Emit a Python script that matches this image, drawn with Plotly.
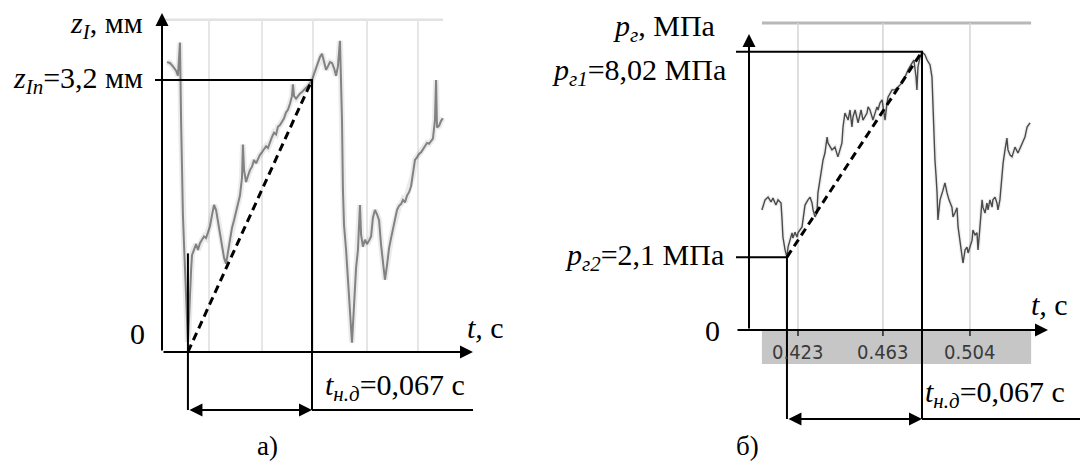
import plotly.graph_objects as go

# ---------------- panel а): displacement z_I (mm) vs time (ms) ----------------
t_a_ms = [2.7, 4.3, 5.9, 7.6, 8.6, 9.2, 9.7, 10.3, 10.8, 11.3,
          11.9, 12.4, 13.0, 13.5, 14.0, 14.6, 15.1, 15.7, 16.2, 17.3,
          18.4, 19.4, 20.5, 21.6, 22.7, 23.8, 24.8, 25.9, 27.0, 28.1,
          29.2, 30.2, 31.3, 32.4, 33.5, 34.6, 35.6, 36.7, 37.8, 38.9,
          40.0, 41.0, 42.1, 43.2, 43.7, 44.3, 45.4, 46.4, 47.5, 48.6,
          49.7, 50.8, 51.8, 52.9, 54.0, 55.1, 56.2, 57.2, 58.3, 59.4,
          60.5, 61.6, 62.6, 63.7, 64.8, 65.9, 67.0, 68.0, 69.1, 70.2,
          70.7, 71.3, 72.4, 73.4, 74.5, 75.6, 76.7, 77.8, 78.8, 79.9,
          81.0, 82.1, 83.2, 84.2, 85.3, 86.4, 87.5, 88.6, 89.6, 90.7,
          91.8, 92.9, 94.0, 95.0, 96.1, 96.7, 97.2, 97.7, 98.3, 99.4,
          100.4, 101.5, 102.6, 103.7, 104.8, 105.8, 106.9, 107.5, 108.5, 109.6,
          110.7, 111.8, 112.9, 113.9, 115.0, 116.1, 117.2, 118.3, 119.3, 120.4,
          121.5, 122.6, 123.7, 124.7, 125.8, 126.9, 128.0, 129.1, 130.1, 131.2,
          132.3, 133.4, 134.5, 135.5, 136.6, 137.7, 138.8, 139.9, 140.9, 142.0,
          143.1, 144.2, 145.3, 146.3, 147.4, 148.0, 148.5, 149.6, 150.7, 151.7]
z_a_mm = [3.41, 3.40, 3.36, 3.31, 3.25, 3.44, 3.64, 2.73, 1.91, 1.61,
          1.26, 0.96, 0.61, 0.32, 0.12, 0.40, 0.73, 0.96, 1.14, 1.22,
          1.27, 1.20, 1.28, 1.32, 1.36, 1.34, 1.42, 1.48, 1.61, 1.73,
          1.67, 1.55, 1.41, 1.25, 1.11, 1.04, 1.18, 1.32, 1.46, 1.55,
          1.65, 1.75, 1.84, 2.05, 2.44, 2.14, 2.00, 2.07, 2.14, 2.18,
          2.26, 2.22, 2.28, 2.32, 2.35, 2.38, 2.42, 2.40, 2.48, 2.53,
          2.58, 2.56, 2.65, 2.67, 2.71, 2.75, 2.82, 2.85, 2.92, 3.01,
          3.15, 3.01, 2.98, 3.01, 3.04, 3.06, 3.08, 3.11, 3.13, 3.16,
          3.20, 3.27, 3.34, 3.41, 3.47, 3.51, 3.41, 3.32, 3.36, 3.41,
          3.40, 3.34, 3.25, 3.36, 3.66, 3.20, 2.73, 1.91, 1.49, 1.20,
          0.85, 0.44, 0.11, 0.55, 0.99, 1.20, 1.73, 1.38, 1.24, 1.32,
          1.27, 1.31, 1.36, 1.58, 1.67, 1.62, 1.55, 1.26, 1.06, 0.85,
          1.02, 1.22, 1.34, 1.44, 1.53, 1.67, 1.72, 1.74, 1.79, 1.76,
          1.84, 1.88, 1.95, 2.08, 2.26, 2.29, 2.33, 2.35, 2.38, 2.42,
          2.46, 2.45, 2.48, 2.51, 2.73, 3.20, 2.64, 2.66, 2.72, 2.75]
grid_a_ms = [25.4, 54.0, 81.5, 110.7, 138.2]
trace_a_span_ms = [1.6, 151.7]
z_top_a = 3.91
z_In = 3.2
t_a_start = 14.0
t_a_end = 81.0
z_a_mark = 1.16

# ---------------- panel б): pressure p_г (MPa) vs time (s) ----------------
t_b_s = [0.4060, 0.4075, 0.4089, 0.4103, 0.4112, 0.4126, 0.4136, 0.4150, 0.4155, 0.4159,
         0.4169, 0.4178, 0.4183, 0.4192, 0.4202, 0.4206, 0.4216, 0.4225, 0.4230, 0.4249,
         0.4254, 0.4263, 0.4277, 0.4287, 0.4296, 0.4301, 0.4310, 0.4319, 0.4324, 0.4334,
         0.4343, 0.4348, 0.4357, 0.4367, 0.4371, 0.4390, 0.4404, 0.4418, 0.4437, 0.4442,
         0.4451, 0.4466, 0.4475, 0.4484, 0.4489, 0.4499, 0.4513, 0.4527, 0.4536, 0.4555,
         0.4560, 0.4569, 0.4579, 0.4583, 0.4593, 0.4602, 0.4607, 0.4616, 0.4626, 0.4630,
         0.4640, 0.4649, 0.4654, 0.4673, 0.4687, 0.4701, 0.4720, 0.4734, 0.4748, 0.4767,
         0.4776, 0.4786, 0.4790, 0.4795, 0.4805, 0.4814, 0.4828, 0.4838, 0.4852, 0.4861,
         0.4866, 0.4871, 0.4875, 0.4880, 0.4885, 0.4889, 0.4894, 0.4899, 0.4913, 0.4922,
         0.4932, 0.4941, 0.4955, 0.4960, 0.4969, 0.4979, 0.4984, 0.4993, 0.5002, 0.5007,
         0.5017, 0.5026, 0.5031, 0.5040, 0.5050, 0.5054, 0.5064, 0.5073, 0.5078, 0.5087,
         0.5097, 0.5101, 0.5111, 0.5120, 0.5125, 0.5134, 0.5144, 0.5148, 0.5158, 0.5167,
         0.5172, 0.5181, 0.5191, 0.5196, 0.5205, 0.5214, 0.5219, 0.5229, 0.5238, 0.5252,
         0.5266, 0.5276, 0.5285, 0.5299, 0.5309, 0.5323]
p_b_mpa = [3.46, 3.75, 3.83, 3.69, 3.80, 3.60, 3.75, 3.66, 3.17, 2.68,
           2.31, 2.10, 2.39, 2.59, 2.80, 2.65, 2.82, 2.68, 2.80, 2.97,
           3.26, 3.60, 3.75, 3.83, 3.66, 3.46, 3.26, 3.37, 3.95, 4.32,
           4.70, 4.90, 5.10, 5.56, 5.39, 5.19, 5.27, 4.99, 5.39, 5.85,
           6.25, 6.05, 6.34, 5.85, 6.14, 6.34, 5.97, 6.34, 6.05, 6.25,
           6.43, 6.34, 6.14, 6.05, 6.25, 6.43, 6.34, 6.54, 6.63, 6.43,
           6.05, 6.54, 6.71, 6.92, 6.92, 7.00, 7.12, 7.29, 7.49, 7.69,
           7.78, 7.29, 6.92, 7.58, 7.87, 8.02, 7.93, 7.78, 7.64, 7.29,
           6.34, 6.05, 4.90, 4.47, 3.95, 3.17, 3.54, 3.75, 4.03, 4.24,
           3.95, 3.75, 3.54, 3.26, 3.37, 3.52, 2.97, 2.59, 2.10, 1.93,
           2.31, 2.39, 2.22, 2.39, 2.59, 2.88, 2.74, 2.80, 2.31, 2.97,
           3.75, 3.54, 3.37, 3.66, 3.46, 3.75, 3.54, 3.75, 3.83, 3.66,
           3.46, 3.75, 4.61, 4.81, 5.19, 5.53, 5.19, 5.04, 4.99, 5.27,
           5.10, 5.24, 5.39, 5.56, 5.85, 5.97]
tick_b_s = [0.423, 0.463, 0.504]
tick_b_labels = ["0.423", "0.463", "0.504"]
trace_b_span_s = [0.4060, 0.5328]
p_top_b = 8.85
p_band_b = -0.98
p_g1 = 8.02
p_g2 = 2.1
t_b_start = 0.4178
t_b_end = 0.4814

# ---------------- axis mapping (layout only) ----------------
# panel а): 0.54 ms per px, t=0 at x=162 px ; 85 px per mm, z=0 at y=352 px
XA = [(0 - 162) * 0.54, (540 - 162) * 0.54]
YA = [(352 - 464) / 85, 352 / 85]
# panel б): 0.000471 s per px, 0.423 s at x=798 px ; 34.7 px per MPa, p=0 at y=330 px
XB = [0.423 + (540 - 798) * 0.000471, 0.423 + (1080 - 798) * 0.000471]
YB = [(330 - 464) / 34.7, 330 / 34.7]
ms_px = 0.54
s_px = 0.000471
mm_px = 1 / 85
mpa_px = 1 / 34.7

SERIF = "Liberation Serif, Times New Roman, serif"
FS = 30

fig = go.Figure()

def seg_trace(xs, ys, xa, ya, color="black", width=2, dash=None):
    fig.add_trace(go.Scatter(x=xs, y=ys, xaxis=xa, yaxis=ya, mode="lines",
                             line=dict(color=color, width=width, dash=dash),
                             hoverinfo="skip", showlegend=False))

# ----- panel а) oscillogram background -----
seg_trace(trace_a_span_ms, [z_top_a, z_top_a], "x", "y", color="#e2e2e2", width=2.5)
gx, gy = [], []
for g in grid_a_ms:
    gx += [g, g, None]
    gy += [0, z_top_a, None]
seg_trace(gx, gy, "x", "y", color="#e6e6e6", width=2)
# signal (blurred scan look)
seg_trace(t_a_ms, z_a_mm, "x", "y", color="rgba(0,0,0,0.08)", width=6)
seg_trace(t_a_ms, z_a_mm, "x", "y", color="rgba(95,95,95,0.75)", width=2)

# construction lines
xa_end = (473 - 162) * ms_px
z_low_a = (352 - 410) * mm_px
seg_trace([-7 * ms_px, t_a_end, t_a_end, None, t_a_end, xa_end, None, t_a_start, t_a_start],
          [z_In, z_In, z_low_a, None, z_low_a, z_low_a, None, z_a_mark, z_low_a], "x", "y")
seg_trace([t_a_start, t_a_end], [0, z_In], "x", "y", width=3, dash="8px,5px")

# ----- panel б) oscillogram background -----
fig.add_shape(type="rect", xref="x2", yref="y2", x0=trace_b_span_s[0], x1=trace_b_span_s[1],
              y0=p_band_b, y1=0, fillcolor="#c6c6c6", line=dict(width=0), layer="below")
seg_trace(trace_b_span_s, [p_top_b, p_top_b], "x2", "y2", color="#b8b8b8", width=3)
gx, gy = [], []
for g in tick_b_s:
    gx += [g, g, None]
    gy += [0, p_top_b, None]
seg_trace(gx, gy, "x2", "y2", color="#d4d4d4", width=1.5)
tx, ty = [], []
for g in tick_b_s:
    tx += [g, g, None]
    ty += [0, -6 * mpa_px, None]
seg_trace(tx, ty, "x2", "y2", color="#222", width=1.5)
seg_trace(t_b_s, p_b_mpa, "x2", "y2", color="rgba(0,0,0,0.07)", width=4)
seg_trace(t_b_s, p_b_mpa, "x2", "y2", color="#4a4a4a", width=1.4)

xb_left = 0.423 + (736 - 798) * s_px
xb_axis = 0.423 + (749 - 798) * s_px
xb_tip = 0.423 + (1048 - 798) * s_px
xb_edge = 0.423 + (1080 - 798) * s_px
p_low_b = (330 - 419) * mpa_px
seg_trace([xb_left, t_b_end, t_b_end, None, t_b_end, xb_edge, None,
           xb_left, t_b_start, t_b_start],
          [p_g1, p_g1, p_low_b, None, p_low_b, p_low_b, None, p_g2, p_g2, p_low_b], "x2", "y2")
seg_trace([t_b_start, t_b_end], [p_g2, p_g1], "x2", "y2", width=3, dash="8px,5px")

# ----- arrows (axes and dimension arrows) -----
annotations = []

def arrow(xr, yr, x0, y0, x1, y1, both=False):
    annotations.append(dict(xref=xr, yref=yr, axref=xr, ayref=yr, x=x1, y=y1, ax=x0, ay=y0,
                            text="", showarrow=True, arrowhead=2, arrowsize=1.3, arrowwidth=2,
                            arrowcolor="black", arrowside="end+start" if both else "end",
                            standoff=0, startstandoff=0))

arrow("x", "y", 0, 0, 0, (352 - 13) * mm_px)
arrow("x", "y", 0, 0, xa_end, 0)
arrow("x", "y", t_a_start, z_low_a, t_a_end, z_low_a, both=True)
arrow("x2", "y2", xb_axis, 0, xb_axis, (330 - 34) * mpa_px)
arrow("x2", "y2", xb_left, 0, xb_tip, 0)
arrow("x2", "y2", t_b_start, p_low_b, t_b_end, p_low_b, both=True)

def label(xr, yr, x, y, text, xanchor="center", size=FS, family=SERIF, color="black"):
    annotations.append(dict(xref=xr, yref=yr, x=x, y=y, text=text, showarrow=False,
                            xanchor=xanchor, yanchor="middle",
                            font=dict(family=family, size=size, color=color)))

# panel а) labels
label("x", "y", (145 - 162) * ms_px, (352 - 25) * mm_px, "<i>z</i><sub><i>I</i></sub>, мм", "right")
label("x", "y", (145 - 162) * ms_px, z_In, "<i>z</i><sub><i>In</i></sub>=3,2 мм", "right")
label("x", "y", (137 - 162) * ms_px, (352 - 333) * mm_px, "0")
label("x", "y", (465 - 162) * ms_px, (352 - 327) * mm_px, "<i>t,</i> с", "left")
label("x", "y", (323 - 162) * ms_px, (352 - 387) * mm_px, "<i>t</i><sub><i>н.д</i></sub>=0,067 с", "left")
label("x", "y", (267 - 162) * ms_px, (352 - 446) * mm_px, "а)", size=27)

# panel б) labels
label("x2", "y2", 0.423 + (717 - 798) * s_px, (330 - 28) * mpa_px, "<i>p</i><sub><i>г</i></sub>, МПа", "right")
label("x2", "y2", 0.423 + (728 - 798) * s_px, (330 - 72) * mpa_px, "<i>p</i><sub><i>г1</i></sub>=8,02 МПа", "right")
label("x2", "y2", 0.423 + (726 - 798) * s_px, (330 - 257) * mpa_px, "<i>p</i><sub><i>г2</i></sub>=2,1 МПа", "right")
label("x2", "y2", 0.423 + (712 - 798) * s_px, 0, "0")
label("x2", "y2", 0.423 + (1029 - 798) * s_px, (330 - 304) * mpa_px, "<i>t,</i> с", "left")
label("x2", "y2", 0.423 + (923 - 798) * s_px, (330 - 394) * mpa_px, "<i>t</i><sub><i>н.д</i></sub>=0,067 с", "left")
label("x2", "y2", 0.423 + (747 - 798) * s_px, (330 - 446) * mpa_px, "б)", size=27)
for tv, tl in zip(tick_b_s, tick_b_labels):
    label("x2", "y2", tv, (330 - 352) * mpa_px, tl, size=20,
          family="Liberation Sans Narrow, DejaVu Sans Condensed, Arial Narrow, sans-serif",
          color="#3a3a3a")

ax_common = dict(visible=False, fixedrange=True, autorange=False)
fig.update_layout(
    width=1080, height=464,
    margin=dict(l=0, r=0, t=0, b=0),
    paper_bgcolor="white", plot_bgcolor="white",
    showlegend=False,
    xaxis=dict(domain=[0, 0.5], range=XA, anchor="y", **ax_common),
    yaxis=dict(domain=[0, 1], range=YA, anchor="x", **ax_common),
    xaxis2=dict(domain=[0.5, 1], range=XB, anchor="y2", **ax_common),
    yaxis2=dict(domain=[0, 1], range=YB, anchor="x2", **ax_common),
    annotations=annotations,
)

fig.write_html("out.html", config={"displayModeBar": False},
               post_script="document.body.style.margin='0px';document.body.style.overflow='hidden';")
